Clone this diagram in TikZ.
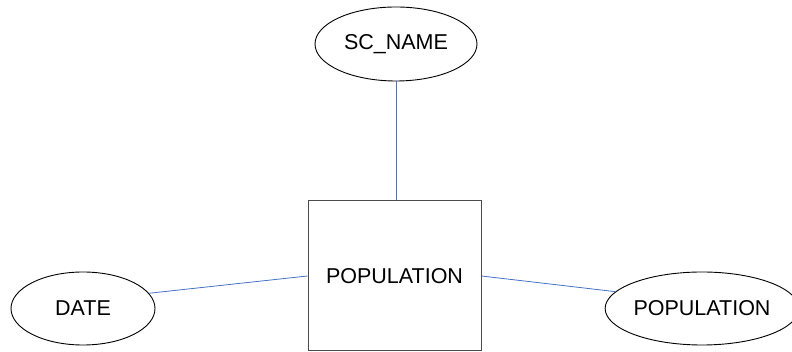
\documentclass[tikz,border=0pt]{standalone}
\usepackage{fontspec}
\setmainfont{Liberation Sans}
\usetikzlibrary{shapes.geometric}
\begin{document}
\begin{tikzpicture}[x=1pt,y=1pt,
  attr/.style={ellipse,draw=black,line width=0.9pt,inner sep=0pt,font=\fontsize{21.5}{25}\selectfont},
  entity/.style={rectangle,draw=black!70,line width=1pt,inner sep=0pt,font=\fontsize{21.5}{25}\selectfont},
  link/.style={draw={rgb,255:red,68;green,114;blue,196},line width=0.8pt}]
\useasboundingbox (0,0) rectangle (792,352);
\node[entity,minimum width=173pt,minimum height=150pt] (rect) at (394.5,76) {POPULATION};
\node[attr,minimum width=162pt,minimum height=74pt] (sc) at (396,308) {SC\_NAME};
\node[attr,minimum width=144pt,minimum height=73pt] (date) at (83,43.5) {DATE};
\node[attr,minimum width=186pt,minimum height=73pt] (pop) at (702,43.5) {POPULATION};
\draw[link] (sc.south) -- (sc.south |- rect.north);
\draw[link] (date.13) -- (rect.west);
\draw[link] (rect.east) -- (pop.169);
\end{tikzpicture}
\end{document}
